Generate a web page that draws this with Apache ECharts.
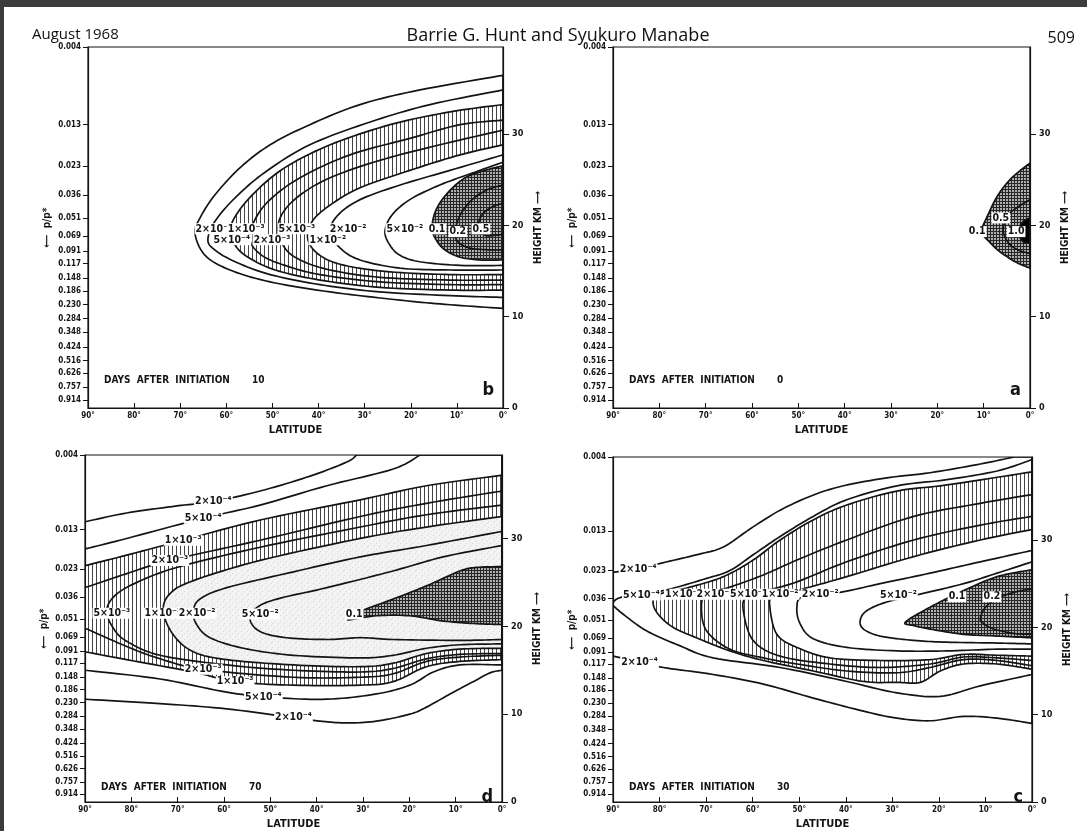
<!DOCTYPE html>
<html><head><meta charset="utf-8">
<script src="https://cdn.jsdelivr.net/npm/echarts@6/dist/echarts.min.js"></script>
<style>html,body{margin:0;padding:0;background:#fff}#c{width:1087px;height:831px}</style>
</head><body><div id="c"></div>
<script>
// ---------- axis tick data ----------
const pressureLabels = ['0.004','0.013','0.023','0.036','0.051','0.069','0.091','0.117','0.148','0.186','0.230','0.284','0.348','0.424','0.516','0.626','0.757','0.914'];
const pressureHeights = [39.5,31.0,26.5,23.3,20.8,18.8,17.2,15.8,14.2,12.8,11.3,9.8,8.3,6.7,5.2,3.8,2.3,0.9];
const heightTicks = [0,10,20,30];
const heightMax = 39.5;
const latMin = 0, latMax = 90, latStep = 10;

// ---------- panel b (10 days) : [latitude, height km] ----------
const B_levels = ['2e-4','5e-4','1e-3','2e-3','5e-3','1e-2','2e-2','5e-2','0.1','0.2','0.5'];
const B_2e4 = [[0,36.4],[18,34.8],[31,33.2],[41.9,31.0],[50.5,28.8],[57,26.3],[62.5,23.3],[65.7,20.8],[66.8,19.1],[64.6,16.7],[59.2,15.1],[50.5,13.8],[37.5,12.7],[22.3,11.8],[11.5,11.3],[0,10.9]];
const B_5e4 = [[0,34.8],[15.8,33.2],[28.8,31.3],[41.9,28.8],[51.6,25.8],[58.1,23.0],[62.5,20.4],[64,18.4],[62.5,17.3],[58.1,16.0],[50.5,14.6],[39.7,13.5],[26.7,12.7],[11.5,12.3],[0,12.1]];
const B_1e3 = [[0,33.2],[11.5,32.4],[24.5,31.0],[37.5,28.8],[47.3,26.3],[53.8,23.6],[57.9,21.1],[59.2,19.3],[58.1,17.8],[55.3,16.5],[49.4,15.1],[39.7,14.0],[26.7,13.2],[11.5,12.9],[0,12.9]];
const B_2e3 = [[0,31.5],[9.3,31.0],[20.2,29.5],[33.2,27.7],[44,25.2],[50.5,22.8],[53.8,20.6],[54.9,18.4],[52.3,16.7],[47.3,15.6],[39.7,14.6],[26.7,13.8],[11.5,13.5],[0,13.5]];
const B_5e3 = [[0,30.4],[13.7,28.8],[26.7,27.1],[37.5,25.2],[44,23.3],[47.7,21.4],[48.8,19.5],[47.3,17.5],[44,16.2],[37.5,15.1],[26.7,14.3],[11.5,14.0],[0,14.0]];
const B_1e2 = [[0,28.8],[9.3,27.7],[20.2,26.0],[31,24.1],[37.5,22.2],[41.4,20.4],[42.3,18.4],[39.7,16.7],[34.3,15.6],[24.5,14.9],[11.5,14.6],[0,14.6]];
const B_2e2 = [[0,27.7],[11.5,26.0],[22.3,24.4],[31,22.8],[35.8,21.1],[37.5,19.3],[35.3,17.5],[31,16.2],[22.3,15.3],[11.5,15.1],[0,15.1]];
const B_5e2 = [[0,26.9],[6.1,25.8],[13.7,24.4],[20.2,22.8],[24.1,21.1],[25.6,19.3],[24.5,17.8],[22.3,16.7],[18,16.0],[9.3,15.6],[0,15.6]];
const B_0p1 = [[0,26.5],[3.9,26.0],[8.2,25.2],[11.9,23.6],[14.5,21.7],[15.4,19.7],[14.5,18.4],[12.6,17.3],[9.3,16.5],[5,16.2],[0,16.2]];
const B_0p2 = [[0,24.4],[3.3,23.9],[6.7,22.8],[9.3,21.1],[10.4,19.3],[9.8,18.2],[7.2,17.5],[2.8,17.3],[0,17.3]];
const B_0p5 = [[0,22.4],[2.4,22.0],[4.6,21.1],[5.4,19.7],[3.9,18.9],[1.7,18.9],[0,19.0]];
const B_labels = [[62.7,19.6,'2×10⁻⁴'],[55.7,19.6,'1×10⁻³'],[44.7,19.6,'5×10⁻³'],[33.6,19.6,'2×10⁻²'],[21.3,19.6,'5×10⁻²'],[14.3,19.6,'0.1'],[9.8,19.3,'0.2'],[4.8,19.6,'0.5'],[58.8,18.4,'5×10⁻⁴'],[50.1,18.4,'2×10⁻³'],[38.0,18.4,'1×10⁻²']];

// ---------- panel a (0 days) ----------
const A_levels = ['0.1','0.5','1.0'];
const A_0p1 = [[0,26.8],[3.9,25.2],[6.9,23.3],[9.1,21.1],[10.4,19.3],[8.6,18.1],[6.5,17.1],[3.2,16.0],[0,15.3]];
const A_0p5 = [[0,22.8],[2.6,22.0],[4.7,21.1],[5.8,19.5],[4.7,18.1],[2.6,17.3],[0,16.9]];
const A_1p0 = [[0,20.8],[1.5,20.4],[2.6,19.3],[1.5,18.2],[0,18.1]];
const A_labels = [[11.4,19.3,'0.1'],[6.3,20.8,'0.5'],[3.0,19.3,'1.0']];

// ---------- panel d (70 days) ----------
const D_levels = ['2e-4','5e-4','1e-3','2e-3','5e-3','1e-2','2e-2','5e-2','0.1'];
const D_2e4 = [[90,31.9],[81,32.9],[70.2,33.7],[62.3,34.2],[52.2,35.4],[41.4,37.1],[33.5,38.7],[31.4,39.5],[0,39.5],[0,15.0],[2.6,14.7],[6.2,13.7],[10.5,12.5],[16.3,10.8],[19.9,10.0],[27.1,9.2],[33.5,9.0],[39.3,9.2],[45,9.6],[59.4,10.6],[73.8,11.2],[90,11.7]];
const D_5e4 = [[90,28.8],[81,30.0],[64.5,32.3],[52.2,33.8],[37.8,36.0],[23.5,37.9],[17.7,39.5],[0,39.5],[0,15.6],[9.1,15.6],[14.8,14.8],[19.9,13.3],[27.1,12.3],[37.8,11.7],[49.4,11.9],[59.4,12.5],[73.8,14.0],[90,15.0]];
const D_1e3 = [[90,26.9],[81,28.1],[68.8,29.8],[52.2,32.1],[30.6,34.4],[16.3,36.0],[0,37.2],[0,16.2],[9.1,16.0],[16.3,15.4],[23.5,13.7],[30.6,13.3],[45,13.3],[57.6,13.7],[66.6,14.8],[81,16.2],[90,17.1]];
const D_2e3 = [[90,24.4],[81,26.0],[71.7,27.5],[52.2,29.8],[30.6,32.5],[16.3,34.0],[0,35.4],[0,16.7],[9.1,16.5],[16.3,16.0],[23.5,14.6],[30.6,14.2],[45,14.2],[64.5,15.1],[73.8,16.3],[81,17.7],[90,19.8]];
const D_5e3 = [[0,33.8],[16.3,32.7],[30.6,31.3],[52.2,29.0],[70.2,26.7],[79.6,24.8],[83.9,23.3],[85.3,21.7],[83.9,19.8],[81,18.3],[73.8,16.7],[59.4,15.6],[45,15.0],[30.6,14.8],[23.5,15.2],[16.3,16.3],[9.1,16.8],[0,16.9]];
const D_1e2 = [[0,32.5],[16.3,31.3],[30.6,30.0],[52.2,27.5],[66.6,25.2],[71.7,23.7],[73.1,21.7],[70.9,19.0],[66.6,17.1],[59.4,16.2],[45,15.6],[30.6,15.4],[23.5,15.8],[16.3,16.9],[9.1,17.4],[0,17.5]];
const D_2e2 = [[0,30.8],[16.3,29.2],[30.6,27.9],[45,26.2],[59.4,24.4],[65.2,23.1],[66.6,21.7],[65.9,20.2],[63,18.7],[55.8,17.5],[45,16.7],[30.6,16.4],[23.5,16.7],[16.3,17.5],[9.1,17.9],[0,18.0]];
const D_5e2 = [[0,29.2],[12.7,27.9],[23.5,26.3],[37.8,24.4],[48.6,23.1],[53,22.1],[54.4,20.8],[52.2,19.4],[46.5,18.7],[37.8,18.5],[30.6,18.7],[23.5,18.5],[9.1,18.4],[0,18.5]];
const D_0p1 = [[0,26.8],[5.5,26.7],[9.1,26.3],[16.3,24.6],[23.5,23.1],[30.6,21.7],[33.2,20.8],[32.1,20.8],[27.1,21.2],[19.9,21.2],[12.7,20.6],[5.5,20.3],[0,20.2]];
const D_labels = [[62.3,34.2,'2×10⁻⁴'],[64.5,32.3,'5×10⁻⁴'],[68.8,29.8,'1×10⁻³'],[71.7,27.5,'2×10⁻³'],[84.2,21.5,'5×10⁻³'],[73.2,21.5,'1×10⁻²'],[65.8,21.5,'2×10⁻²'],[52.2,21.4,'5×10⁻²'],[31.9,21.4,'0.1'],[64.5,15.1,'2×10⁻³'],[57.6,13.7,'1×10⁻³'],[51.5,11.9,'5×10⁻⁴'],[45.0,9.6,'2×10⁻⁴']];

// ---------- panel c (30 days) ----------
const C_levels = ['2e-4','5e-4','1e-3','2e-3','5e-3','1e-2','2e-2','5e-2','0.1','0.2'];
const C_2e4 = [[90,26.3],[84.6,26.7],[80,27.3],[72.1,28.3],[66.3,29.2],[59.9,31.5],[52.7,33.8],[43.4,35.8],[32.6,37.0],[21.9,37.7],[11.1,38.7],[3.9,39.5],[0,39.5],[0,9.0],[7.5,9.6],[14.7,9.8],[21.9,9.3],[29,9.6],[36.2,10.4],[47,11.9],[57.7,13.5],[68.5,14.6],[79.2,15.4],[84.6,16.1],[90,16.7]];
const C_5e4 = [[0,39.2],[7.5,37.9],[18.3,36.9],[29,36.2],[39.8,34.6],[47,32.7],[54.1,30.4],[59.9,28.3],[64.9,26.5],[69.9,25.6],[79.2,24.2],[87.8,23.5],[90,22.9],[90,22.5],[87.8,21.5],[82.8,19.6],[75.7,17.9],[68.5,16.5],[54.1,15.4],[39.8,13.8],[29,12.5],[19.7,12.1],[11.1,13.3],[0,14.6]];
const C_1e3 = [[0,37.8],[18.3,36.3],[29,35.6],[39.8,34.0],[47,32.3],[54.1,30.0],[59.9,27.7],[66.3,25.8],[73.5,24.6],[80,23.8],[81.4,22.9],[80.3,21.5],[77.1,20.0],[72.1,18.8],[64.9,17.3],[57.7,16.2],[47,15.0],[36.2,13.8],[29,13.7],[24,13.7],[19.7,15.0],[14.7,15.8],[7.5,15.8],[0,15.2]];
const C_2e3 = [[0,35.2],[11.1,34.2],[25.4,32.7],[39.8,30.0],[50.5,27.7],[57.7,26.0],[64.9,24.6],[69.9,23.8],[71,22.3],[69.9,19.6],[64.9,17.5],[57.7,16.5],[50.5,15.8],[39.8,15.0],[29,14.8],[21.9,15.4],[14.7,16.3],[7.5,16.2],[0,15.6]];
const C_5e3 = [[0,32.7],[11.1,31.7],[25.4,30.0],[39.8,27.5],[50.5,25.2],[57,24.2],[61.3,23.5],[62,21.9],[59.9,18.5],[54.1,16.7],[43.4,15.8],[32.6,15.4],[21.9,15.8],[14.7,16.6],[7.5,16.5],[0,16.2]];
const C_1e2 = [[0,31.2],[11.1,30.0],[25.4,28.1],[39.8,25.8],[50.5,24.2],[55.6,23.5],[56.3,22.3],[54.8,19.2],[50.5,17.7],[43.4,16.5],[32.6,16.2],[21.9,16.3],[14.7,16.9],[7.5,16.8],[0,16.7]];
const C_2e2 = [[0,28.8],[11.1,27.5],[21.9,26.2],[32.6,25.0],[41.2,24.0],[49.1,23.5],[50.5,22.3],[49.8,20.4],[47,18.7],[39.8,17.7],[29,17.3],[18.3,17.3],[7.5,17.5],[0,17.5]];
const C_5e2 = [[0,27.5],[7.5,26.2],[14.7,25.0],[24,23.8],[31.2,22.9],[35.5,21.9],[36.9,20.8],[36.2,19.8],[32.6,19.0],[25.4,18.5],[18.3,18.3],[7.5,18.2],[0,18.1]];
const C_0p1 = [[0,26.6],[7.5,25.8],[14.7,24.2],[21.9,22.3],[27.2,20.6],[25.4,20.2],[21.9,19.8],[14.7,19.2],[7.5,19.0],[0,18.8]];
const C_0p2 = [[0,24.4],[3.9,24.0],[7.5,23.3],[10,22.3],[11.1,21.0],[10.3,20.4],[8.2,19.8],[3.9,19.3],[0,19.2]];
const C_labels = [[84.6,26.7,'2×10⁻⁴'],[83.9,23.7,'5×10⁻⁴'],[74.9,23.8,'1×10⁻³'],[68.1,23.8,'2×10⁻³'],[60.9,23.8,'5×10⁻³'],[54.1,23.8,'1×10⁻²'],[45.5,23.8,'2×10⁻²'],[28.7,23.7,'5×10⁻²'],[16.1,23.5,'0.1'],[8.6,23.5,'0.2'],[84.3,16.0,'2×10⁻⁴']];

const daysB = '10', daysA = '0', daysD = '70', daysC = '30';

// ---------- styling ----------
const FONT = "'Liberation Sans Narrow','DejaVu Sans Condensed','Arial Narrow',sans-serif";
const INK = '#141414';
function makePattern(w, h, draw) {
  const cv = document.createElement('canvas'); cv.width = w; cv.height = h;
  draw(cv.getContext('2d')); return { image: cv, repeat: 'repeat' };
}
const hatch = makePattern(4, 4, g => { g.fillStyle = '#fff'; g.fillRect(0,0,4,4); g.fillStyle = '#444'; g.fillRect(0,0,1,4); });
const cross = makePattern(3, 3, g => { g.fillStyle = '#b0b0b0'; g.fillRect(0,0,3,3); g.fillStyle = '#262626'; g.fillRect(0,0,3,1); g.fillRect(0,0,1,3); });
const stipple = makePattern(6, 6, g => { g.fillStyle = '#f3f3f3'; g.fillRect(0,0,6,6); g.fillStyle = '#d6d6d6'; g.fillRect(1,1,1,1); g.fillRect(4,3,1,1); g.fillRect(2,5,1,1); });

const panels = [
  { grid:{left:88,top:47,width:415,height:361}, levels:B_levels, contours:[B_2e4,B_5e4,B_1e3,B_2e3,B_5e3,B_1e2,B_2e2,B_5e2,B_0p1,B_0p2,B_0p5], labels:B_labels, days:daysB, letter:'b', mid:'#fff' },
  { grid:{left:613,top:47,width:417,height:361}, levels:A_levels, contours:[A_0p1,A_0p5,A_1p0], labels:A_labels, days:daysA, letter:'a', mid:'#fff' },
  { grid:{left:85,top:455,width:417,height:360}, levels:D_levels, contours:[D_2e4,D_5e4,D_1e3,D_2e3,D_5e3,D_1e2,D_2e2,D_5e2,D_0p1], labels:D_labels, days:daysD, letter:'d', mid:stipple },
  { grid:{left:613,top:457,width:419,height:358}, levels:C_levels, contours:[C_2e4,C_5e4,C_1e3,C_2e3,C_5e3,C_1e2,C_2e2,C_5e2,C_0p1,C_0p2], labels:C_labels, days:daysC, letter:'c', mid:'#fff' }
];
function fillFor(p, lvl) {
  if (lvl === '1e-3') return hatch;
  if (lvl === '1e-2') return p.mid;
  if (lvl === '0.1') return cross;
  if (lvl === '1.0') return '#000';
  return null;
}

// rendering helper: curve through the read points in pixel space, keeping segments that run along the frame straight
function sameEdge(a, b) {
  return (a[0] === latMin && b[0] === latMin) || (a[0] === latMax && b[0] === latMax) || (a[1] >= heightMax && b[1] >= heightMax);
}
function curvePixels(raw, api) {
  const px = raw.map(pt => api.coord(pt)), n = px.length, out = [];
  for (let i = 0; i < n; i++) {
    const j = (i + 1) % n, a = px[i], b = px[j];
    out.push(a);
    if (sameEdge(raw[i], raw[j])) continue;
    const ip = (i - 1 + n) % n, jn = (j + 1) % n;
    const p0 = sameEdge(raw[ip], raw[i]) ? a : px[ip];
    const p3 = sameEdge(raw[j], raw[jn]) ? b : px[jn];
    for (let s = 1; s < 10; s++) {
      const t = s / 10, t2 = t * t, t3 = t2 * t;
      const f = k => 0.5 * (2 * a[k] + (-p0[k] + b[k]) * t + (2 * p0[k] - 5 * a[k] + 4 * b[k] - p3[k]) * t2 + (-p0[k] + 3 * a[k] - 3 * b[k] + p3[k]) * t3);
      out.push([f(0), f(1)]);
    }
  }
  return out;
}

const grids = [], xAxes = [], yAxes = [], series = [], graphics = [];
panels.forEach((p, i) => {
  grids.push(Object.assign({ show:true, borderColor:INK, borderWidth:1.2, backgroundColor:'transparent' }, p.grid));
  xAxes.push({ gridIndex:i, type:'value', min:latMin, max:latMax, interval:latStep, inverse:true,
    name:'LATITUDE', nameLocation:'middle', nameGap:17, nameTextStyle:{ fontFamily:FONT, fontWeight:'bold', fontSize:11, color:INK },
    axisLine:{ onZero:false, lineStyle:{ color:INK, width:1.2 } }, axisTick:{ inside:true, length:5, lineStyle:{ color:INK } },
    axisLabel:{ formatter: v => v + '°', fontFamily:FONT, fontWeight:'bold', fontSize:8, color:INK, margin:4 }, splitLine:{ show:false } });
  yAxes.push({ gridIndex:i, type:'value', position:'left', min:0, max:heightMax,
    name:'⟵  p/p*', nameLocation:'middle', nameRotate:90, nameGap:36, nameTextStyle:{ fontFamily:FONT, fontWeight:'bold', fontSize:10, color:INK },
    axisLine:{ show:true, onZero:false, lineStyle:{ color:INK, width:1.2 } },
    axisTick:{ show:true, length:5, customValues:pressureHeights, lineStyle:{ color:INK } },
    axisLabel:{ customValues:pressureHeights, formatter: v => { const k = pressureHeights.findIndex(h => Math.abs(h - v) < 1e-6); return k >= 0 ? pressureLabels[k] : ''; },
      fontFamily:FONT, fontWeight:'bold', fontSize:8, color:INK, margin:7 }, splitLine:{ show:false } });
  yAxes.push({ gridIndex:i, type:'value', position:'right', min:0, max:heightMax,
    name:'HEIGHT KM ⟶', nameLocation:'middle', nameRotate:90, nameGap:30, nameTextStyle:{ fontFamily:FONT, fontWeight:'bold', fontSize:10, color:INK },
    axisLine:{ show:true, onZero:false, lineStyle:{ color:INK, width:1.2 } },
    axisTick:{ show:true, length:6, customValues:heightTicks, lineStyle:{ color:INK } },
    axisLabel:{ customValues:heightTicks, fontFamily:FONT, fontWeight:'bold', fontSize:9, color:INK, margin:9 }, splitLine:{ show:false } });

  const fillIdx = p.levels.map((l, k) => k).filter(k => fillFor(p, p.levels[k]));
  series.push({ type:'custom', xAxisIndex:i, yAxisIndex:2*i, clip:true, z:1, silent:true,
    data: fillIdx.map(k => [k, 0]),
    renderItem: (params, api) => {
      const k = api.value(0);
      return { type:'polygon', shape:{ points:curvePixels(p.contours[k], api) }, style:{ fill:fillFor(p, p.levels[k]), stroke:null } };
    } });
  series.push({ type:'custom', xAxisIndex:i, yAxisIndex:2*i, clip:true, z:2, silent:true,
    data: p.contours.map((c, k) => [k, 0]),
    renderItem: (params, api) => {
      const k = api.value(0);
      return { type:'polygon', shape:{ points:curvePixels(p.contours[k], api) }, style:{ fill:null, stroke:INK, lineWidth:1.7, lineJoin:'round' } };
    } });
  series.push({ type:'custom', xAxisIndex:i, yAxisIndex:2*i, clip:false, z:3, silent:true,
    data: p.labels.map((l, k) => [l[0], l[1], k]),
    renderItem: (params, api) => {
      const pt = api.coord([api.value(0), api.value(1)]);
      const k = api.value(2);
      return { type:'text', x:pt[0], y:pt[1],
        style:{ text:p.labels[k][2], font:"bold 10.5px " + FONT, fill:INK, align:'center', verticalAlign:'middle', backgroundColor:'#fff', padding:[0,1] } };
    } });

  const g = p.grid;
  graphics.push({ type:'text', x:g.left + 16, y:g.top + g.height - 28, style:{ text:'DAYS  AFTER  INITIATION', font:"bold 10px " + FONT, fill:INK, verticalAlign:'middle' } });
  graphics.push({ type:'text', x:g.left + 164, y:g.top + g.height - 28, style:{ text:p.days, font:"bold 10px " + FONT, fill:INK, verticalAlign:'middle' } });
  graphics.push({ type:'text', x:g.left + g.width - 9, y:g.top + g.height - 9, style:{ text:p.letter, font:"bold 18px " + FONT, fill:INK, align:'right', verticalAlign:'bottom' } });
});

graphics.push({ type:'rect', shape:{ x:0, y:0, width:1087, height:7 }, style:{ fill:'#3c3c3c' } });
graphics.push({ type:'rect', shape:{ x:0, y:0, width:4, height:831 }, style:{ fill:'#3c3c3c' } });
graphics.push({ type:'text', x:32, y:35, style:{ text:'August 1968', font:"15px 'Open Sans', sans-serif", fill:'#111', verticalAlign:'middle' } });
graphics.push({ type:'text', x:558, y:36, style:{ text:'Barrie G. Hunt and Syukuro Manabe', font:"18px 'Open Sans', sans-serif", fill:'#111', align:'center', verticalAlign:'middle' } });
graphics.push({ type:'text', x:1075, y:38, style:{ text:'509', font:"16px 'Open Sans', sans-serif", fill:'#111', align:'right', verticalAlign:'middle' } });

const chart = echarts.init(document.getElementById('c'), null, { renderer:'canvas', width:1087, height:831 });
chart.setOption({ animation:false, backgroundColor:'#fff', grid:grids, xAxis:xAxes, yAxis:yAxes, series:series, graphic:{ elements:graphics } });
</script>
</body></html>
